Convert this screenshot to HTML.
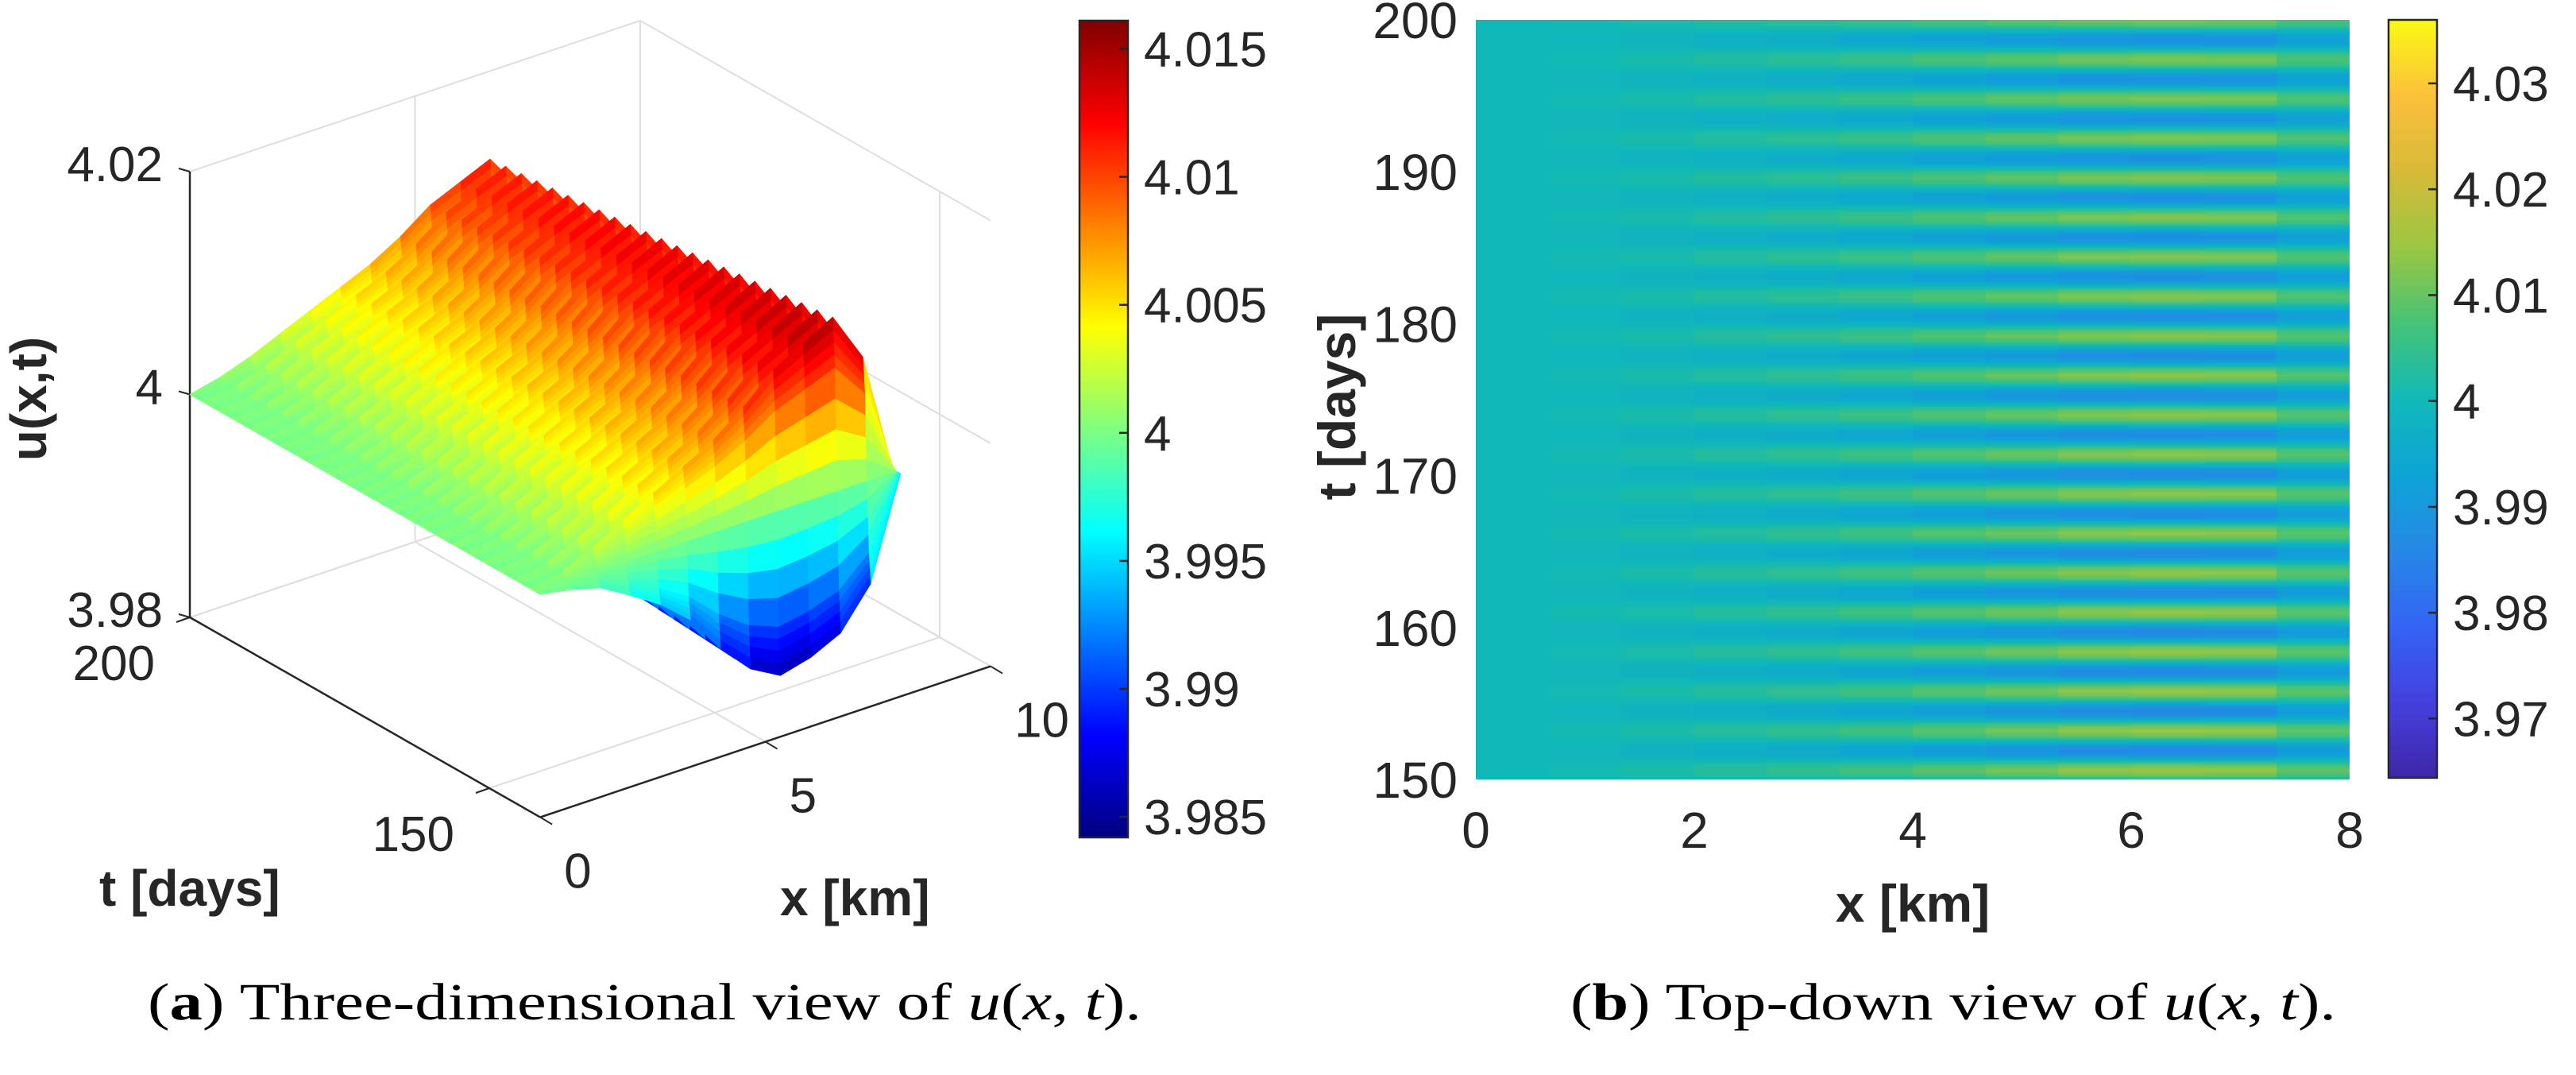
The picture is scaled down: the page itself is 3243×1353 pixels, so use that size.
<!DOCTYPE html>
<html><head><meta charset="utf-8">
<style>
html,body{margin:0;padding:0;background:#fff;}
#wrap{position:relative;width:3243px;height:1353px;overflow:hidden;background:#fff;}
svg{position:absolute;left:0;top:0;}
#heat{position:absolute;left:1858px;top:25px;}
text{font-family:"Liberation Sans",Arial,sans-serif;fill:#262626;}
.cap{font-family:"Liberation Serif","DejaVu Serif",serif;fill:#000;}
</style></head>
<body>
<div id="wrap">
<svg id="svg" width="3243" height="1353" viewBox="0 0 3243 1353">
 <defs>
  <linearGradient id="jetGrad" x1="0" y1="1" x2="0" y2="0"></linearGradient>
  <linearGradient id="parGrad" x1="0" y1="1" x2="0" y2="0"></linearGradient>
 </defs>
 <g id="grid3d"></g>
 <g id="axes3d"></g>
 <g id="surf"></g>
 <g id="labels3d"></g>
 <text transform="translate(58,502) rotate(-90)" text-anchor="middle" font-size="64" font-weight="bold">u(x,t)</text>
 <text x="125" y="1140" font-size="64" font-weight="bold">t [days]</text>
 <text x="982" y="1152" font-size="64" font-weight="bold">x [km]</text>
 <g id="cbar3d"></g>

 <g id="heatAxes"></g>
 <text transform="translate(1706,512) rotate(-90)" text-anchor="middle" font-size="66" font-weight="bold">t [days]</text>
 <text x="2408" y="1160" text-anchor="middle" font-size="66" font-weight="bold">x [km]</text>
 <g id="cbarHeat"></g>

 <text class="cap" x="186" y="1283" font-size="66" textLength="1251" lengthAdjust="spacingAndGlyphs">(<tspan font-weight="bold">a</tspan>) Three-dimensional view of <tspan font-style="italic">u</tspan>(<tspan font-style="italic">x</tspan>, <tspan font-style="italic">t</tspan>).</text>
 <text class="cap" x="1977" y="1283" font-size="66" textLength="964" lengthAdjust="spacingAndGlyphs">(<tspan font-weight="bold">b</tspan>) Top-down view of <tspan font-style="italic">u</tspan>(<tspan font-style="italic">x</tspan>, <tspan font-style="italic">t</tspan>).</text>
</svg>
<canvas id="heat" width="1100" height="956"></canvas>
</div>
<script>
// ---------- data ----------
const xNodes = [0, 0.667, 1.333, 2, 2.667, 3.333, 4, 4.667, 5.333, 6, 6.667, 7.333, 8];
const crestAmp3d = [0, 0.0008, 0.002, 0.0035, 0.005, 0.0065, 0.008, 0.010, 0.0125, 0.014, 0.0155, 0.011, 0];
const troughAmp3d = [0, 0.0005, 0.0012, 0.0028, 0.0045, 0.0068, 0.0103, 0.013, 0.0145, 0.0138, 0.0125, 0.009, 0];
const heatColX = [0.333, 1, 1.667, 2.333, 3, 3.667, 4.333, 5, 5.667, 6.333, 7, 7.667];
const ampXMap = [0, 0.001, 0.002, 0.0035, 0.005, 0.007, 0.0095, 0.012, 0.0145, 0.0155, 0.015, 0.010];
const envTimes = [141.5, 150, 175, 200];
const envFactor = [1.0, 0.97, 0.87, 0.78];
const wavePattern = [1, 0.71, 0, -0.71, -1, -0.71, 0, 0.71];
const wavePeriod = 2.6;
const baseValue = 4.0;
const zTicks = [3.98, 4.0, 4.02];
const zTickLabels = ["3.98", "4", "4.02"];
const tTicks3d = [150, 200];
const xTicks3d = [0, 5, 10];
const cb3Ticks = [3.985, 3.99, 3.995, 4.0, 4.005, 4.01, 4.015];
const cb3Labels = ["3.985", "3.99", "3.995", "4", "4.005", "4.01", "4.015"];
const cb3Lim = [3.9842, 4.0161];
const heatXTicks = [0, 2, 4, 6, 8];
const heatYTicks = [150, 160, 170, 180, 190, 200];
const cbHTicks = [3.97, 3.98, 3.99, 4.0, 4.01, 4.02, 4.03];
const cbHLabels = ["3.97", "3.98", "3.99", "4", "4.01", "4.02", "4.03"];
const cbHLim = [3.9644, 4.036];

// ---------- helpers ----------
const NS = "http://www.w3.org/2000/svg";
function mk(tag, attrs, parent){ const e=document.createElementNS(NS,tag); for(const k in attrs) e.setAttribute(k,attrs[k]); parent.appendChild(e); return e; }
function envAt(t){ for(let i=0;i<envTimes.length-1;i++){ if(t<=envTimes[i+1]){ const f=(t-envTimes[i])/(envTimes[i+1]-envTimes[i]); return envFactor[i]+f*(envFactor[i+1]-envFactor[i]); } } return envFactor[envFactor.length-1]; }
function clamp(v){ return Math.max(0,Math.min(1,v)); }
function jet(v){ const r=clamp(1.5-Math.abs(4*v-3)), g=clamp(1.5-Math.abs(4*v-2)), b=clamp(1.5-Math.abs(4*v-1)); return `rgb(${Math.round(r*255)},${Math.round(g*255)},${Math.round(b*255)})`; }
const parStops = [[0,62,38,168],[0.1,68,64,222],[0.2,52,100,245],[0.3,38,136,230],[0.4,14,164,214],[0.5,16,185,184],[0.6,70,195,118],[0.7,155,199,66],[0.8,214,186,56],[0.9,252,192,58],[1,249,250,20]];
function parulaRGB(v){ v=clamp(v); for(let i=0;i<parStops.length-1;i++){ const a=parStops[i], b=parStops[i+1]; if(v<=b[0]){ const f=(v-a[0])/(b[0]-a[0]); return [a[1]+f*(b[1]-a[1]), a[2]+f*(b[2]-a[2]), a[3]+f*(b[3]-a[3])]; } } return parStops[parStops.length-1].slice(1); }

// ---------- 3D projection ----------
const T_MAX = 200, T_MIN = 141.5, X_MAX = 10;
function P(x,t,u){ return [239 + 56.7*x + 7.54*(T_MAX-t), 777 - 19.0*x + 4.30*(T_MAX-t) - 14025*(u-3.98)]; }
const grid = document.getElementById('grid3d');
function line3(a,b,parent,col,w,name){ const l=mk('line',{x1:a[0],y1:a[1],x2:b[0],y2:b[1],stroke:col,'stroke-width':w},parent);
 
  }
const gcol="#dedede";
zTicks.forEach(z=>line3(P(0,T_MAX,z),P(X_MAX,T_MAX,z),grid,gcol,2,'grid-line'));
xTicks3d.forEach(x=>line3(P(x,T_MAX,3.98),P(x,T_MAX,4.02),grid,gcol,2,'grid-line'));
zTicks.forEach(z=>line3(P(X_MAX,T_MAX,z),P(X_MAX,T_MIN,z),grid,gcol,2,'grid-line'));
tTicks3d.forEach(t=>line3(P(X_MAX,t,3.98),P(X_MAX,t,4.02),grid,gcol,2,'grid-line'));
xTicks3d.forEach(x=>line3(P(x,T_MAX,3.98),P(x,T_MIN,3.98),grid,gcol,2,'grid-line'));
tTicks3d.forEach(t=>line3(P(0,t,3.98),P(X_MAX,t,3.98),grid,gcol,2,'grid-line'));
const ax = document.getElementById('axes3d');
const acol="#262626";
line3(P(0,T_MAX,3.98),P(0,T_MAX,4.02),ax,acol,2.5,'z-axis-line');
line3(P(0,T_MAX,3.98),P(0,T_MIN,3.98),ax,acol,2.5,'t-axis-line');
line3(P(0,T_MIN,3.98),P(X_MAX,T_MIN,3.98),ax,acol,2.5,'x-axis-line');
zTicks.forEach(z=>{ const p=P(0,T_MAX,z); line3(p,[p[0]-14,p[1]-4],ax,acol,2,'z-tick'); });
tTicks3d.forEach(t=>{ const p=P(0,t,3.98); line3(p,[p[0]-17,p[1]+6],ax,acol,2,'t-tick'); });
xTicks3d.forEach(x=>{ const p=P(x,T_MIN,3.98); line3(p,[p[0]+15,p[1]+9],ax,acol,2,'x-tick'); });
const lab = document.getElementById('labels3d');
zTicks.forEach((z,i)=>{ const p=P(0,T_MAX,z); const e=mk('text',{x:205,y:p[1]+12,'text-anchor':'end','font-size':62},lab); e.textContent=zTickLabels[i];
 
  });
tTicks3d.forEach(t=>{ const p=P(0,t,3.98); const e=mk('text',{x:p[0]-44,y:p[1]+79,'text-anchor':'end','font-size':62},lab); e.textContent=String(t);
 
  });
xTicks3d.forEach(x=>{ const p=P(x,T_MIN,3.98); const e=mk('text',{x:p[0]+30,y:p[1]+89,'font-size':62},lab); e.textContent=String(x);
 
  });

// surface
const surf = document.getElementById('surf');
const tStep = wavePeriod / wavePattern.length;
const nT = Math.round((T_MAX - T_MIN) / tStep);
const SUB = 4;
function u3(i,k){ const t=T_MAX-k*tStep; const w=wavePattern[k % wavePattern.length]; const a = w>=0 ? crestAmp3d[i] : troughAmp3d[i]; return baseValue + a*envAt(t)*w; }
const quads=[];
for(let k=0;k<nT;k++){ for(let i=0;i<xNodes.length-1;i++){
 const t0=T_MAX-k*tStep, t1=T_MAX-(k+1)*tStep;
 const a0=u3(i,k), b0=u3(i+1,k), a1=u3(i,k+1), b1=u3(i+1,k+1);
 for(let s=0;s<SUB;s++){
  const f0=s/SUB, f1=(s+1)/SUB;
  const ta=t0+(t1-t0)*f0, tb=t0+(t1-t0)*f1;
  const c=[[xNodes[i],ta,a0+(a1-a0)*f0],[xNodes[i+1],ta,b0+(b1-b0)*f0],[xNodes[i+1],tb,b0+(b1-b0)*f1],[xNodes[i],tb,a0+(a1-a0)*f1]];
  const depth=c.reduce((sum,q)=>sum+(-19.0*q[0]+4.30*(T_MAX-q[1])),0)/4;
  const uavg=c.reduce((sum,q)=>sum+q[2],0)/4;
  quads.push({c,depth,uavg});
 }
}}
quads.sort((a,b)=>a.depth-b.depth);
let frag=document.createDocumentFragment();
quads.forEach(q=>{ const pts=q.c.map(p=>P(p[0],p[1],p[2]).map(v=>v.toFixed(1)).join(',')).join(' ');
 const col=jet((q.uavg-cb3Lim[0])/(cb3Lim[1]-cb3Lim[0]));
 const pg=document.createElementNS(NS,'polygon'); pg.setAttribute('points',pts); pg.setAttribute('fill',col); pg.setAttribute('stroke',col); pg.setAttribute('stroke-width','1'); pg.setAttribute('stroke-linejoin','round');
 
 
 frag.appendChild(pg); });
surf.appendChild(frag);

function buildCbar(gId, gradId, cmapFn, lim, x0, x1, y0, y1, ticks, labels, lx, nameTick, nameLabel){
 const grad=document.getElementById(gradId);
 for(let s=0;s<=40;s++){ const v=s/40; mk('stop',{offset:v,'stop-color':cmapFn(v)},grad); }
 const g=document.getElementById(gId);
 const r=mk('rect',{x:x0,y:y0,width:x1-x0,height:y1-y0,fill:`url(#${gradId})`,stroke:'#262626','stroke-width':2.5},g);
 
 
 ticks.forEach((tv,i)=>{ const y=y1-(tv-lim[0])/(lim[1]-lim[0])*(y1-y0);
  const l=mk('line',{x1:x1-11,y1:y,x2:x1,y2:y,stroke:'#262626','stroke-width':2.5},g);
  
  
  const t=mk('text',{x:lx,y:y+22,'font-size':62},g); t.textContent=labels[i];
  
   });
}
buildCbar('cbar3d','jetGrad',jet,cb3Lim,1359,1420,26,1054,cb3Ticks,cb3Labels,1440,'colorbar-3d-tick','colorbar-3d-label');
buildCbar('cbarHeat','parGrad',v=>{const c=parulaRGB(v);return `rgb(${c.map(Math.round).join(',')})`;},cbHLim,3007,3068,25,979,cbHTicks,cbHLabels,3088,'colorbar-heatmap-tick','colorbar-heatmap-label');

// ---------- heatmap ----------
const HX0=1858, HX1=2958, HY0=25, HY1=981, HT0=150, HT1=200, HXMAX=8;
const hx = x => HX0 + x/HXMAX*(HX1-HX0);
const hy = t => HY1 - (t-HT0)/(HT1-HT0)*(HY1-HY0);
const cv=document.getElementById('heat'); const ctx=cv.getContext('2d');
const nRows=Math.round((HT1-HT0)/tStep)+1;
const colW=(HX1-HX0)/heatColX.length;
heatColX.forEach((xc,j)=>{
 const off=document.createElement('canvas'); off.width=1; off.height=nRows;
 const octx=off.getContext('2d'); const img=octx.createImageData(1,nRows);
 for(let k=0;k<nRows;k++){ const t=HT1-k*tStep; const u=baseValue+ampXMap[j]*envAt(t)*wavePattern[k%wavePattern.length];
  const c=parulaRGB((u-cbHLim[0])/(cbHLim[1]-cbHLim[0])); img.data[k*4]=c[0]; img.data[k*4+1]=c[1]; img.data[k*4+2]=c[2]; img.data[k*4+3]=255; }
 octx.putImageData(img,0,0);
 ctx.imageSmoothingEnabled=true;
 const x0=hx(xc)-colW/2-HX0;
 const rowH=(HY1-HY0)/((HT1-HT0)/tStep);
 ctx.drawImage(off,0,0,1,nRows,Math.round(x0),-rowH/2,Math.ceil(colW)+1,nRows*rowH);
});
const ha=document.getElementById('heatAxes');
heatXTicks.forEach(x=>{ const t=mk('text',{x:hx(x),y:1067,'text-anchor':'middle','font-size':64},ha); t.textContent=String(x);
 
  });
heatYTicks.forEach(v=>{ const t=mk('text',{x:1835,y:hy(v)+23,'text-anchor':'end','font-size':64},ha); t.textContent=String(v);
 
  });
</script>
</body></html>
